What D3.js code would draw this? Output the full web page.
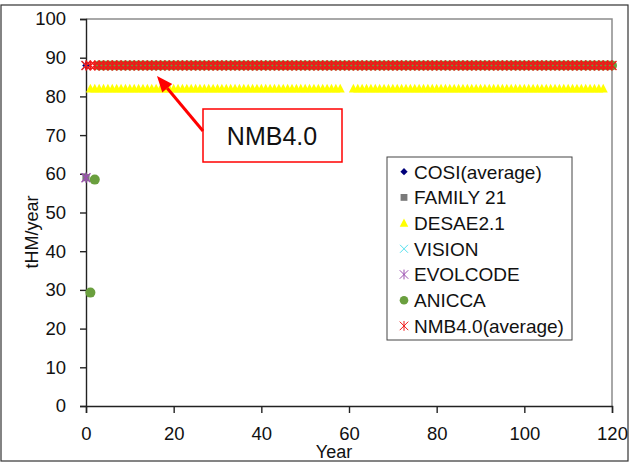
<!DOCTYPE html>
<html>
<head>
<meta charset="utf-8">
<script src="https://cdn.jsdelivr.net/npm/d3@7"></script>
<style>
  body { margin: 0; background: #fff; }
  svg { display: block; font-family: "Liberation Sans", Arial, sans-serif; }
</style>
</head>
<body>
<script>
// chart data
const years = [
  0, 1, 2, 3, 4, 5, 6, 7, 8, 9,
  10, 11, 12, 13, 14, 15, 16, 17, 18, 19,
  20, 21, 22, 23, 24, 25, 26, 27, 28, 29,
  30, 31, 32, 33, 34, 35, 36, 37, 38, 39,
  40, 41, 42, 43, 44, 45, 46, 47, 48, 49,
  50, 51, 52, 53, 54, 55, 56, 57, 58, 59,
  60, 61, 62, 63, 64, 65, 66, 67, 68, 69,
  70, 71, 72, 73, 74, 75, 76, 77, 78, 79,
  80, 81, 82, 83, 84, 85, 86, 87, 88, 89,
  90, 91, 92, 93, 94, 95, 96, 97, 98, 99,
  100, 101, 102, 103, 104, 105, 106, 107, 108, 109,
  110, 111, 112, 113, 114, 115, 116, 117, 118, 119,
  120
];

// values by year index (null = no point)
const cosiValues = [88];
const family21Values = [59];
const desaeValues = [
  null, 82, 82, 82, 82, 82, 82, 82, 82, 82,
  82, 82, 82, 82, 82, 82, 82, 82, 82, 82,
  82, 82, 82, 82, 82, 82, 82, 82, 82, 82,
  82, 82, 82, 82, 82, 82, 82, 82, 82, 82,
  82, 82, 82, 82, 82, 82, 82, 82, 82, 82,
  82, 82, 82, 82, 82, 82, 82, 82, 82, null,
  null, 82, 82, 82, 82, 82, 82, 82, 82, 82,
  82, 82, 82, 82, 82, 82, 82, 82, 82, 82,
  82, 82, 82, 82, 82, 82, 82, 82, 82, 82,
  82, 82, 82, 82, 82, 82, 82, 82, 82, 82,
  82, 82, 82, 82, 82, 82, 82, 82, 82, 82,
  82, 82, 82, 82, 82, 82, 82, 82, 82
];
const visionValues = [88];
const evolcodeValues = [59];
const aniccaValues = [
  null, 29.3, 58.5, 88, 88, 88, 88, 88, 88, 88,
  88, 88, 88, 88, 88, 88, 88, 88, 88, 88,
  88, 88, 88, 88, 88, 88, 88, 88, 88, 88,
  88, 88, 88, 88, 88, 88, 88, 88, 88, 88,
  88, 88, 88, 88, 88, 88, 88, 88, 88, 88,
  88, 88, 88, 88, 88, 88, 88, 88, 88, 88,
  88, 88, 88, 88, 88, 88, 88, 88, 88, 88,
  88, 88, 88, 88, 88, 88, 88, 88, 88, 88,
  88, 88, 88, 88, 88, 88, 88, 88, 88, 88,
  88, 88, 88, 88, 88, 88, 88, 88, 88, 88,
  88, 88, 88, 88, 88, 88, 88, 88, 88, 88,
  88, 88, 88, 88, 88, 88, 88, 88, 88, 88,
  88
];
const nmbValues = [
  88, 88, 88, 88, 88, 88, 88, 88, 88, 88,
  88, 88, 88, 88, 88, 88, 88, 88, 88, 88,
  88, 88, 88, 88, 88, 88, 88, 88, 88, 88,
  88, 88, 88, 88, 88, 88, 88, 88, 88, 88,
  88, 88, 88, 88, 88, 88, 88, 88, 88, 88,
  88, 88, 88, 88, 88, 88, 88, 88, 88, 88,
  88, 88, 88, 88, 88, 88, 88, 88, 88, 88,
  88, 88, 88, 88, 88, 88, 88, 88, 88, 88,
  88, 88, 88, 88, 88, 88, 88, 88, 88, 88,
  88, 88, 88, 88, 88, 88, 88, 88, 88, 88,
  88, 88, 88, 88, 88, 88, 88, 88, 88, 88,
  88, 88, 88, 88, 88, 88, 88, 88, 88, 88,
  88
];

const seriesNames = ["COSI(average)", "FAMILY 21", "DESAE2.1", "VISION", "EVOLCODE", "ANICCA", "NMB4.0(average)"];
const xTicks = [0, 20, 40, 60, 80, 100, 120];
const yTicks = [0, 10, 20, 30, 40, 50, 60, 70, 80, 90, 100];
const xAxisLabel = "Year";
const yAxisLabel = "tHM/year";
const calloutText = "NMB4.0";

// series styles
const series = [
  { name: seriesNames[0], values: cosiValues, shape: "diamond", color: "#00007a" },
  { name: seriesNames[1], values: family21Values, shape: "square", color: "#7a7a7a" },
  { name: seriesNames[2], values: desaeValues, shape: "triangle", color: "#ffff00" },
  { name: seriesNames[3], values: visionValues, shape: "cross", color: "#55e0ee" },
  { name: seriesNames[4], values: evolcodeValues, shape: "star", color: "#9b4fb0" },
  { name: seriesNames[5], values: aniccaValues, shape: "circle", color: "#6a9f3e" },
  { name: seriesNames[6], values: nmbValues, shape: "star", color: "#f01818" }
];

const w = 630;
const h = 462;

const svg = d3.select("body").append("svg").attr("width", w).attr("height", h);

// outer frame
svg.append("rect")
  .attr("x", 1).attr("y", 5)
  .attr("width", 627).attr("height", 456)
  .attr("fill", "#fff")
  .attr("stroke", "#333")
  .attr("stroke-width", 1.2);

const xScale = d3.scaleLinear().domain([0, 120]).range([86, 612]);
const yScale = d3.scaleLinear().domain([0, 100]).range([406, 19]);

// plot area border (top / right grey)
svg.append("path")
  .attr("d", `M${xScale(0)},${yScale(100)}H${xScale(120)}V${yScale(0)}`)
  .attr("fill", "none")
  .attr("stroke", "#8c8c8c")
  .attr("stroke-width", 1.5);

// axes
const xAxis = d3.axisBottom(xScale).tickValues(xTicks).tickSize(7).tickPadding(14).tickFormat(d3.format("d"));
const yAxis = d3.axisLeft(yScale).tickValues(yTicks).tickSize(6).tickPadding(14).tickFormat(d3.format("d"));

svg.append("g")
  .attr("class", "x axis")
  .attr("transform", `translate(0, ${yScale(0)})`)
  .call(xAxis);

svg.append("g")
  .attr("class", "y axis")
  .attr("transform", `translate(${xScale(0)}, 0)`)
  .call(yAxis);

svg.selectAll(".axis path, .axis line").attr("stroke", "#222").attr("stroke-width", 1.4);
svg.selectAll(".axis text").attr("font-size", 18.5).attr("fill", "#111").attr("font-family", "Liberation Sans, Arial, sans-serif");

svg.append("text")
  .attr("x", 334)
  .attr("y", 458)
  .attr("text-anchor", "middle")
  .attr("font-size", 18)
  .attr("fill", "#111")
  .text(xAxisLabel);

svg.append("text")
  .attr("transform", "rotate(-90)")
  .attr("x", -232)
  .attr("y", 38)
  .attr("text-anchor", "middle")
  .attr("font-size", 18)
  .attr("fill", "#111")
  .text(yAxisLabel);

// marker shapes
const markerPath = (shape, s) => {
  if (shape === "diamond") return `M0,${-s}L${s},0L0,${s}L${-s},0Z`;
  if (shape === "square") return `M${-s},${-s}H${s}V${s}H${-s}Z`;
  if (shape === "triangle") return `M0,${-s * 1.1}L${s},${s * 0.85}L${-s},${s * 0.85}Z`;
  if (shape === "cross") return `M${-s},${-s}L${s},${s}M${-s},${s}L${s},${-s}`;
  if (shape === "star") return `M${-s},${-s}L${s},${s}M${-s},${s}L${s},${-s}M0,${-s * 1.15}V${s * 1.15}`;
  return "";
};

const markerSize = { diamond: 3.8, square: 3.6, triangle: 4.5, cross: 4.2, star: 4.5 };

const drawMarker = (g, shape, color, size, sw) => {
  if (shape === "circle") {
    g.append("circle").attr("r", size).attr("fill", color);
  } else if (shape === "cross" || shape === "star") {
    g.append("path").attr("d", markerPath(shape, size))
      .attr("fill", "none").attr("stroke", color).attr("stroke-width", sw);
  } else {
    g.append("path").attr("d", markerPath(shape, size)).attr("fill", color);
  }
};

// create points
series.forEach((s) => {
  const pts = s.values
    .map((v, i) => ({ year: years[i], value: v }))
    .filter((d) => d.value != null);

  svg.append("g")
    .attr("class", "series")
    .selectAll("g")
    .data(pts)
    .enter()
    .append("g")
    .attr("transform", (d) => `translate(${xScale(d.year)},${yScale(d.value)})`)
    .each(function () {
      const size = s.shape === "circle" ? 5 : markerSize[s.shape];
      drawMarker(d3.select(this), s.shape, s.color, size, 1.4);
    });
});

// callout box + arrow
svg.append("rect")
  .attr("x", 203).attr("y", 109)
  .attr("width", 139).attr("height", 53)
  .attr("fill", "#fff")
  .attr("stroke", "#ff0000")
  .attr("stroke-width", 1.5);

svg.append("text")
  .attr("x", 272)
  .attr("y", 145)
  .attr("text-anchor", "middle")
  .attr("font-size", 25)
  .attr("fill", "#111")
  .text(calloutText);

const arrowFrom = [203, 131];
const arrowTip = [157, 76];
const dx = arrowTip[0] - arrowFrom[0];
const dy = arrowTip[1] - arrowFrom[1];
const len = Math.sqrt(dx * dx + dy * dy);
const ux = dx / len;
const uy = dy / len;
const headLen = 16;
const headW = 6.5;
const base = [arrowTip[0] - ux * headLen, arrowTip[1] - uy * headLen];

svg.append("line")
  .attr("x1", arrowFrom[0]).attr("y1", arrowFrom[1])
  .attr("x2", base[0]).attr("y2", base[1])
  .attr("stroke", "#ff0000")
  .attr("stroke-width", 3);

svg.append("path")
  .attr("d", `M${arrowTip[0]},${arrowTip[1]}L${base[0] - uy * headW},${base[1] + ux * headW}L${base[0] + uy * headW},${base[1] - ux * headW}Z`)
  .attr("fill", "#ff0000");

// legend
const legend = svg.append("g").attr("class", "legend");

legend.append("rect")
  .attr("x", 387).attr("y", 157)
  .attr("width", 185).attr("height", 183)
  .attr("fill", "#fff")
  .attr("stroke", "#444")
  .attr("stroke-width", 1);

const legendRows = legend.selectAll("g.row")
  .data(series)
  .enter()
  .append("g")
  .attr("class", "row")
  .attr("transform", (d, i) => `translate(404, ${171.7 + i * 25.7})`);

legendRows.each(function (d) {
  const size = d.shape === "circle" ? 4.3 : markerSize[d.shape] * 0.95;
  drawMarker(d3.select(this), d.shape, d.color, size, 1);
});

legendRows.append("text")
  .attr("x", 10)
  .attr("dy", "0.36em")
  .attr("font-size", 19)
  .attr("fill", "#111")
  .text((d) => d.name);
</script>
</body>
</html>
